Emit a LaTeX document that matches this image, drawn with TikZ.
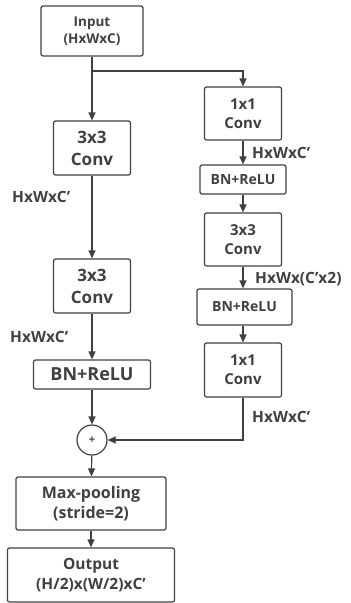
\documentclass[tikz,border=0pt]{standalone}
\usepackage{fontspec}
\setmainfont{Open Sans}
\usetikzlibrary{arrows.meta}
\definecolor{ln}{HTML}{404040}
\newcommand{\apo}{\char39\relax}
\begin{document}
\begin{tikzpicture}[x=1pt,y=-1pt,
  blk/.style={draw=ln,line width=1.2pt,rounded corners=2pt,align=center,inner sep=0pt,text=ln,font=\bfseries},
  conv/.style={blk,minimum width=77pt,minimum height=54pt,font=\fontsize{17}{22}\selectfont\bfseries},
  rconv/.style={blk,minimum width=77pt,minimum height=53pt,font=\fontsize{15}{19}\selectfont\bfseries},
  rbn/.style={blk,font=\fontsize{14}{17}\selectfont\bfseries},
  lab/.style={text=ln,inner sep=0pt,font=\fontsize{15.5}{18}\selectfont\bfseries},
  arr/.style={draw=ln,line width=1.2pt,-{Triangle[length=8pt,width=7pt]}},
  lin/.style={draw=ln,line width=1.2pt}]
\useasboundingbox (0,0) rectangle (351,603);
\node[blk,minimum width=102pt,minimum height=50pt,font=\fontsize{13.5}{17}\selectfont\bfseries] (in) at (92,31) {Input\\(HxWxC)};
\node[conv] (c1) at (92,148) {3x3\\Conv};
\node[conv] (c2) at (92,286) {3x3\\Conv};
\node[blk,minimum width=117pt,minimum height=29pt,font=\fontsize{18}{21}\selectfont\bfseries] (lb) at (92,374.5) {BN+ReLU};
\node[draw=ln,line width=1.2pt,circle,minimum size=30pt,inner sep=0pt,text=ln,font=\fontsize{11}{12}\selectfont\bfseries] (plus) at (92,440) {+};
\node[blk,minimum width=150pt,minimum height=53pt,font=\fontsize{16}{20}\selectfont\bfseries] (mp) at (91,503.5) {Max-pooling\\(stride=2)};
\node[blk,minimum width=167pt,minimum height=54pt,font=\fontsize{15.5}{20}\selectfont\bfseries] (out) at (91,575) {Output\\(H/2)x(W/2)xC\apo};
\node[rconv] (r1) at (243,113.5) {1x1\\Conv};
\node[rbn,minimum width=86pt,minimum height=29pt] (rb1) at (243,179.5) {BN+ReLU};
\node[rconv] (r2) at (243,239.5) {3x3\\Conv};
\node[rbn,minimum width=95pt,minimum height=36pt] (rb2) at (244.5,307) {BN+ReLU};
\node[rconv,minimum height=54pt] (r3) at (243,370) {1x1\\Conv};
\coordinate (br) at (92,71);
\coordinate (brr) at (243,71);
\coordinate (cr) at (243,440);
\node[lab,anchor=west] (l1) at (12,197) {HxWxC\apo};
\node[lab,anchor=west] (l2) at (10,337) {HxWxC\apo};
\node[lab,anchor=west] (t1) at (252,153) {HxWxC\apo};
\node[lab,anchor=west] (t2) at (255,279) {HxWx(C\apo x2)};
\node[lab,anchor=west] (t3) at (252,417) {HxWxC\apo};
\draw[arr] (in.south) -- (c1.north);
\draw[arr] (br) -- (brr) -- (r1.north);
\draw[arr] (c1) -- (c2);
\draw[arr] (c2) -- (lb);
\draw[arr] (lb) -- (plus);
\draw[arr] (plus) -- (mp);
\draw[arr] (mp) -- (out);
\draw[arr] (r1) -- (r1|-rb1.north);
\draw[arr] (rb1.south-|r1) -- (r2);
\draw[arr] (r2) -- (r2|-rb2.north);
\draw[arr] (rb2.south-|r2) -- (r3);
\draw[arr] (r3.south) -- (cr) -- (plus.east);
\end{tikzpicture}
\end{document}
